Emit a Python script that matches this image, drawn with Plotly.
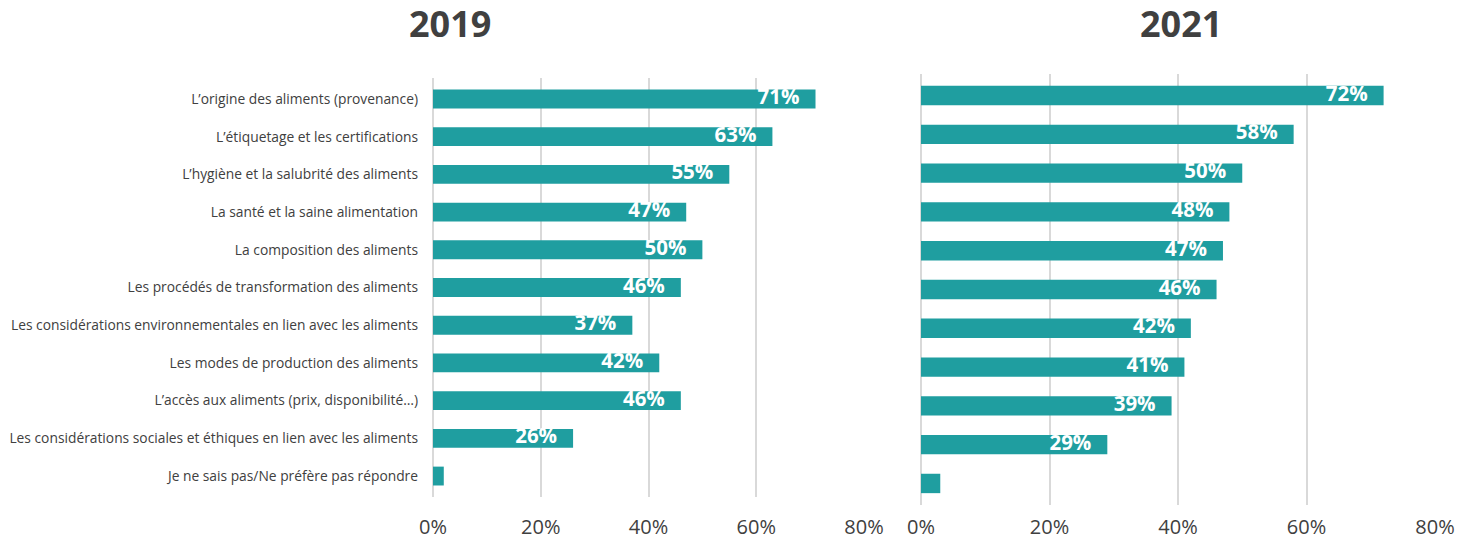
import plotly.graph_objects as go

categories = [
    "L’origine des aliments (provenance)",
    "L’étiquetage et les certifications",
    "L’hygiène et la salubrité des aliments",
    "La santé et la saine alimentation",
    "La composition des aliments",
    "Les procédés de transformation des aliments",
    "Les considérations environnementales en lien avec les aliments",
    "Les modes de production des aliments",
    "L’accès aux aliments (prix, disponibilité…)",
    "Les considérations sociales et éthiques en lien avec les aliments",
    "Je ne sais pas/Ne préfère pas répondre",
]
values_2019 = [71, 63, 55, 47, 50, 46, 37, 42, 46, 26, 2]
values_2021 = [72, 58, 50, 48, 47, 46, 42, 41, 39, 29, 3]
tick_vals = [0, 20, 40, 60, 80]
tick_text = ["0%", "20%", "40%", "60%", "80%"]

BAR = "#1f9ea0"
FONT = "Open Sans"

def labels(vals):
    return [f"<b>{v}%</b>\u00a0\u00a0\u00a0" if v >= 5 else "" for v in vals]

fig = go.Figure()
for vals, xa, ya in [(values_2019, "x", "y"), (values_2021, "x2", "y2")]:
    fig.add_trace(go.Bar(
        x=vals, y=categories, orientation="h", xaxis=xa, yaxis=ya,
        marker=dict(color=BAR, line=dict(width=0)),
        showlegend=False, hoverinfo="x+y",
    ))
    fig.add_trace(go.Scatter(
        x=vals, y=categories, xaxis=xa, yaxis=ya, mode="text",
        text=labels(vals), textposition="middle left",
        textfont=dict(color="white", size=20.5, family=FONT),
        showlegend=False, hoverinfo="skip", cliponaxis=False,
    ))

W, H = 1457, 548
xaxis_common = dict(
    range=[0, 80], tickvals=tick_vals, ticktext=tick_text,
    showgrid=True, gridcolor="#d9d9d9", gridwidth=2,
    zeroline=True, zerolinecolor="#d9d9d9", zerolinewidth=2,
    showline=False, ticks="", automargin=False,
    tickfont=dict(size=20, family=FONT, color="#404040"),
)
fig.update_layout(
    width=W, height=H,
    margin=dict(l=0, r=0, t=0, b=0),
    paper_bgcolor="white", plot_bgcolor="white",
    bargap=0.5,
    font=dict(family=FONT, color="#404040"),
    xaxis=dict(domain=[433 / W, 864 / W], anchor="y", ticklabelstandoff=16, **xaxis_common),
    xaxis2=dict(domain=[921 / W, 1435 / W], anchor="y2", ticklabelstandoff=8, **xaxis_common),
    yaxis=dict(domain=[1 - 497 / H, 1 - 78 / H], anchor="x", autorange="reversed",
               showgrid=False, showline=False, ticks="", ticklabelstandoff=14, automargin=False,
               tickfont=dict(size=13.8, family=FONT, color="#404040")),
    yaxis2=dict(domain=[1 - 505 / H, 1 - 74 / H], anchor="x2", autorange="reversed",
                showgrid=False, showline=False, ticks="", showticklabels=False, automargin=False),
    annotations=[
        dict(text="<b>2019</b>", x=450 / W, y=1 - 24 / H, xref="paper", yref="paper",
             showarrow=False, font=dict(size=36, family=FONT, color="#404040"),
             xanchor="center", yanchor="middle"),
        dict(text="<b>2021</b>", x=1181 / W, y=1 - 24 / H, xref="paper", yref="paper",
             showarrow=False, font=dict(size=36, family=FONT, color="#404040"),
             xanchor="center", yanchor="middle"),
    ],
)
fig.write_html("out.html", config={"displayModeBar": False},
               post_script="document.body.style.margin='0';document.body.style.overflow='hidden';")
